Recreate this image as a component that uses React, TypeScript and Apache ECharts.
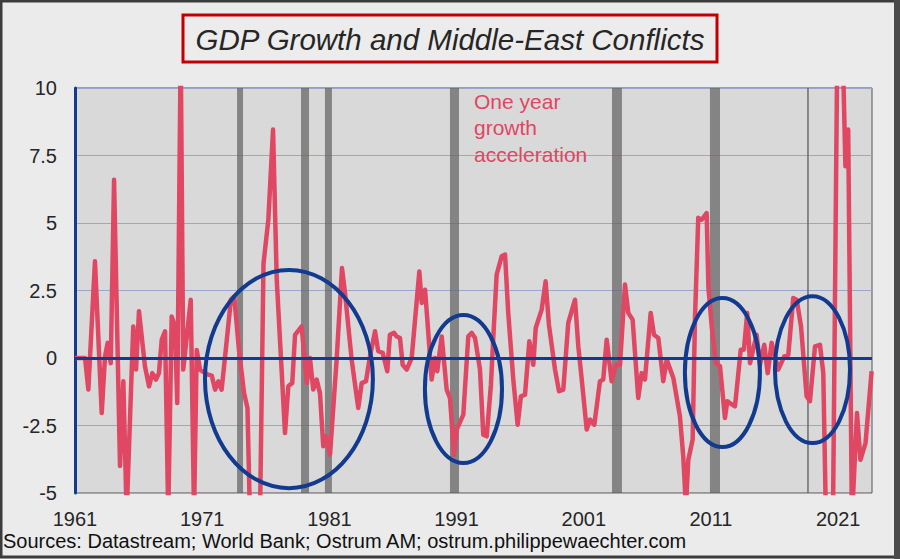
import React, { useEffect, useRef } from "react";
import * as echarts from "echarts";

// Turning points (decimal year, one-year growth acceleration, %)
const years = [
  1961.0, 1961.79, 1962.05, 1962.57, 1963.1, 1963.36, 1963.57, 1963.81, 1964.07, 1964.54,
  1964.8, 1965.06, 1965.58, 1965.8, 1966.03, 1966.5, 1966.82, 1967.08, 1967.37, 1967.6,
  1967.82, 1968.08, 1968.33, 1968.6, 1968.86, 1969.04, 1969.31, 1969.51, 1970.1, 1970.36,
  1970.57, 1970.83, 1971.35, 1971.75, 1972.01, 1972.27, 1972.53, 1973.26, 1973.52, 1973.89,
  1974.29, 1974.56, 1974.76, 1975.54, 1975.82, 1976.2, 1976.57, 1976.86, 1977.2, 1977.51,
  1977.77, 1978.08, 1978.3, 1978.82, 1979.22, 1979.47, 1979.73, 1980.0, 1980.26, 1980.52,
  1980.73, 1981.05, 1981.57, 1981.99, 1982.23, 1982.75, 1983.27, 1983.54, 1983.88, 1984.19,
  1984.59, 1984.84, 1985.19, 1985.55, 1985.76, 1986.08, 1986.29, 1986.55, 1986.76, 1987.08,
  1987.47, 1988.07, 1988.26, 1988.52, 1988.7, 1989.04, 1989.3, 1989.48, 1989.83, 1990.22,
  1990.48, 1990.8, 1991.01, 1991.53, 1991.92, 1992.19, 1992.45, 1992.84, 1993.1, 1993.37,
  1993.7, 1993.89, 1994.15, 1994.55, 1994.81, 1995.06, 1995.46, 1995.8, 1996.06, 1996.38,
  1996.72, 1997.03, 1997.22, 1997.69, 1998.0, 1998.26, 1998.74, 1999.05, 1999.39, 1999.78,
  2000.31, 2000.57, 2000.84, 2001.23, 2001.49, 2001.83, 2002.27, 2002.53, 2002.8, 2003.19,
  2003.53, 2003.85, 2004.24, 2004.5, 2004.84, 2005.28, 2005.55, 2005.81, 2006.26, 2006.52,
  2006.86, 2007.25, 2007.52, 2008.04, 2008.56, 2008.82, 2009.03, 2009.22, 2009.56, 2009.74,
  2010.0, 2010.27, 2010.66, 2010.8, 2011.06, 2011.39, 2011.71, 2012.1, 2012.28, 2012.49,
  2012.89, 2013.34, 2013.59, 2013.85, 2014.07, 2014.59, 2014.85, 2015.19, 2015.46, 2015.77,
  2016.29, 2016.76, 2017.08, 2017.47, 2017.74, 2018.08, 2018.52, 2018.78, 2019.18, 2019.57,
  2019.83, 2020.04, 2020.59, 2020.94, 2021.38, 2021.57, 2021.79, 2022.08, 2022.48, 2022.75,
  2023.15, 2023.63,
];
const growth = [
  0, 0, -1.17, 3.58, -2.04, 0.06, 0.56, -0.19, 6.6, -4.0,
  -0.86, -5.8, 1.17, -0.43, 1.73, -0.31, -1.05, -0.56, -0.8, -0.56,
  0.68, 0.99, -5.8, 1.54, 1.17, -1.67, 11.5, -0.43, 2.16, -5.8,
  0.3, -0.43, -0.6, -0.65, -1.17, -0.86, -1.17, 2.16, 2.28, 0.3,
  -1.3, -1.85, -6.0, -6.0, 3.5, 5.12, 8.46, 2.9, -0.06, -2.78,
  -1.05, -0.93, 0.86, 1.17, -0.93, 0, -1.17, -0.8, -1.3, -3.27,
  -2.9, -3.58, -0.06, 3.33, 2.4, -0.06, -1.85, -0.93, -0.86, 0.06,
  0.99, 0.25, 0.19, -0.49, 0.86, 0.93, 0.8, 0.74, -0.25, -0.43,
  0, 3.2, 2.04, 2.53, 1.42, -0.8, 0, -0.49, 0.8, -1.17,
  -1.48, -3.58, -2.65, -2.1, 0.8, 0.93, 0.74, -0.43, -2.84, -2.9,
  -0.99, 0.8, 3.09, 3.77, 3.83, 1.67, -0.8, -2.47, -1.42, -1.36,
  0.62, -0.25, 1.11, 1.79, 2.84, 1.23, -0.43, -1.23, -1.17, 1.3,
  2.16, 0.43, -0.8, -2.65, -2.28, -2.47, -0.86, -0.8, 0.68, -0.86,
  -0.25, -0.25, 2.72, 1.67, 1.42, -1.48, -0.56, -0.8, 1.67, 0.86,
  0.74, -0.86, -0.06, -0.74, -2.16, -3.64, -5.5, -3.77, -3.02, 1.42,
  5.19, 5.12, 5.37, 2.6, 1.17, -0.19, -0.31, -2.22, -1.6, -1.67,
  -1.79, 0.31, 0.31, 1.67, -0.19, 0.86, -0.25, 0.49, -0.56, 0.56,
  -0.43, 0.06, 0.12, 2.22, 2.16, 1.17, -1.42, -1.6, 0.43, 0.49,
  -0.56, -6.0, -6.0, 12.0, 11.0, 7.1, 8.46, -6.0, -2.04, -3.77,
  -3.15, -0.49,
];

// Middle-East conflict periods (grey bands)
const conflictStart = [1973.74, 1978.77, 1980.65, 1990.48, 2003.22, 2010.92, 2018.55];
const conflictEnd = [1974.21, 1979.4, 1981.2, 1991.19, 2004.0, 2011.71, 2018.7];

// Highlight ellipses: centre year, centre value, half-width (years), half-height (pts)
const ellipseYear = [1977.82, 1991.54, 2011.9, 2018.98];
const ellipseValue = [-0.78, -1.15, -0.54, -0.43];
const ellipseHalfYears = [6.6, 3.03, 2.95, 2.95];
const ellipseHalfValue = [4.04, 2.74, 2.76, 2.72];

const xMin = 1961;
const xMax = 2023.66;

const PINK = "#df4763";
const BLUE = "#123b8f";
const FONT = "'Liberation Sans', Arial, sans-serif";

export default function App() {
  const ref = useRef<HTMLDivElement>(null);

  useEffect(() => {
    document.body.style.margin = "0";
    const chart = echarts.init(ref.current!, undefined, { renderer: "svg" });
    const lineData = years.map((y, i) => [y, growth[i]]);

    chart.setOption({
      animation: false,
      backgroundColor: "#ebebeb",
      grid: {
        left: 75,
        right: 28,
        top: 88,
        bottom: 66,
        show: true,
        backgroundColor: "#d9d9d9",
        borderColor: "#555555",
        borderWidth: 1,
      },
      xAxis: {
        type: "value",
        min: xMin,
        max: xMax,
        interval: 10,
        axisLine: { show: false, onZero: false },
        axisTick: { show: false },
        splitLine: { show: false },
        axisLabel: {
          margin: 18,
          fontSize: 20,
          lineHeight: 16,
          color: "#262626",
          fontFamily: FONT,
          showMaxLabel: false,
          formatter: (v: number) => {
            const r = Math.round(v);
            return Math.abs(v - r) < 1e-6 && (r - 1961) % 10 === 0 ? String(r) : "";
          },
        },
      },
      yAxis: {
        type: "value",
        min: -5,
        max: 10,
        interval: 2.5,
        axisLine: { show: true, lineStyle: { color: BLUE, width: 3 } },
        axisTick: { show: false },
        splitLine: { show: true, lineStyle: { color: "#9aa7cc", width: 1 } },
        axisLabel: {
          margin: 18,
          fontSize: 20,
          color: "#262626",
          fontFamily: FONT,
        },
      },
      series: [
        {
          type: "line",
          z: 1,
          data: [[xMin, 0]],
          symbol: "none",
          lineStyle: { width: 0 },
          silent: true,
          markArea: {
            silent: true,
            itemStyle: { color: "rgba(95,95,95,0.7)" },
            data: conflictStart.map((s, i) => [{ xAxis: s }, { xAxis: conflictEnd[i] }]),
          },
          markLine: {
            silent: true,
            symbol: ["none", "none"],
            label: { show: false },
            lineStyle: { color: BLUE, width: 3, type: "solid" },
            data: [{ yAxis: 0 }],
          },
        },
        {
          type: "line",
          z: 3,
          data: lineData,
          symbol: "none",
          clip: true,
          lineStyle: { color: PINK, width: 4.5, join: "round" },
        },
      ],
    });

    const ellipses = ellipseYear.map((y, i) => {
      const c = chart.convertToPixel({ gridIndex: 0 }, [y, ellipseValue[i]]) as number[];
      const e = chart.convertToPixel(
        { gridIndex: 0 },
        [y + ellipseHalfYears[i], ellipseValue[i] + ellipseHalfValue[i]]
      ) as number[];
      return {
        type: "ellipse",
        z: 100,
        silent: true,
        shape: { cx: c[0], cy: c[1], rx: Math.abs(e[0] - c[0]), ry: Math.abs(c[1] - e[1]) },
        style: { fill: "none", stroke: BLUE, lineWidth: 4 },
      };
    });

    chart.setOption({
      graphic: [
        {
          type: "rect",
          z: 50,
          silent: true,
          shape: { x: 1, y: 1, width: 895, height: 556 },
          style: { fill: "none", stroke: "#3c3c3c", lineWidth: 3 },
        },
        {
          type: "rect",
          z: 50,
          silent: true,
          shape: { x: 894, y: 0, width: 6, height: 559 },
          style: { fill: "#4a4a4a" },
        },
        {
          type: "rect",
          z: 50,
          silent: true,
          shape: { x: 183, y: 15, width: 534, height: 47 },
          style: { fill: "#ececec", stroke: "#c00000", lineWidth: 3 },
        },
        {
          type: "text",
          z: 51,
          silent: true,
          x: 450,
          y: 39,
          style: {
            text: "GDP Growth and Middle-East Conflicts",
            fill: "#262626",
            font: `italic 29.5px ${FONT}`,
            align: "center",
            verticalAlign: "middle",
          },
        },
        {
          type: "text",
          z: 51,
          silent: true,
          x: 474,
          y: 88,
          style: {
            text: "One year\ngrowth\nacceleration",
            fill: PINK,
            font: `21px ${FONT}`,
            lineHeight: 26.5,
            align: "left",
            verticalAlign: "top",
          },
        },
        {
          type: "text",
          z: 51,
          silent: true,
          x: 3,
          y: 541,
          style: {
            text: "Sources: Datastream; World Bank; Ostrum AM; ostrum.philippewaechter.com",
            fill: "#111111",
            font: `20px ${FONT}`,
            lineHeight: 17,
            align: "left",
            verticalAlign: "middle",
          },
        },
        ...ellipses,
      ],
    });

    return () => chart.dispose();
  }, []);

  return (
    <div
      ref={ref}
      style={{ position: "fixed", left: 0, top: 0, width: 900, height: 559 }}
    />
  );
}
